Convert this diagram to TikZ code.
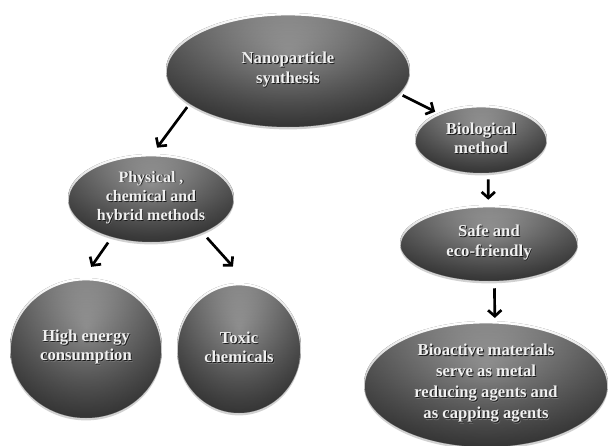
\documentclass[tikz,border=0pt]{standalone}
\usepackage{fontspec}
\setmainfont{Liberation Serif}
\usetikzlibrary{shapes.geometric,arrows.meta,calc,shadows,fadings}
\tikzfading[name=vign, inner color=transparent!100, outer color=transparent!52]
\newcommand\sht[1]{\leavevmode\rlap{\kern1.1pt\raisebox{-1.1pt}{\textcolor{black!55}{#1}}}\rlap{\kern0.7pt\raisebox{-0.7pt}{\textcolor{black!90}{#1}}}#1}
\begin{document}
\begin{tikzpicture}[x=0.75pt,y=-0.75pt,
  bub/.style={ellipse, inner sep=0pt, text=white!94!black, align=center,
    font=\fontsize{12.5}{15}\selectfont\bfseries,
    drop shadow={shadow xshift=0pt, shadow yshift=-1.8pt, opacity=0.18, fill=black},
    path picture={
      \shade[top color=black!33, middle color=black!52, bottom color=black!66]
        (path picture bounding box.south west) rectangle (path picture bounding box.north east);
      \fill[black, path fading=vign] let \p1=(path picture bounding box.north east),
        \p2=(path picture bounding box.center) in
        ($(\p2)+({-1.1*(\x1-\x2)},{-1.3*(\y1-\y2)})$) rectangle ($(\p2)+({1.1*(\x1-\x2)},{1.9*(\y1-\y2)})$);
      \shade[top color=white, bottom color=black!45, even odd rule] let \p1=(path picture bounding box.north east),
        \p2=(path picture bounding box.center) in
        (\p2) ellipse [x radius={\x1-\x2}, y radius={\y1-\y2}]
        ($(\p2)+(0pt,-1.8pt)$) ellipse [x radius={\x1-\x2-0.6pt}, y radius={\y1-\y2}];
    }},
  arr/.style={line width=2pt, -{Straight Barb[length=4.5pt,width=10pt]}}]
\fill[white] (0,0) rectangle (608,446);
\useasboundingbox (0,0) rectangle (608,446);

\node[bub, minimum width=183pt, minimum height=85.5pt] (nano) at (288,70)
  {\sht{Nanoparticle}\\\sht{synthesis}};
\node[bub, minimum width=99pt, minimum height=51pt, font=\fontsize{12.5}{14.3}\selectfont\bfseries] (bio) at (481,139)
  {\sht{Biological}\\\sht{method}};
\node[bub, minimum width=133.5pt, minimum height=57pt] (safe) at (489,243)
  {\sht{Safe and}\\\sht{eco-friendly}};
\node[bub, minimum width=183pt, minimum height=94.5pt, font=\fontsize{12.5}{15.8}\selectfont\bfseries] (bioact) at (486,384)
  {\sht{Bioactive materials}\\\sht{serve as metal}\\\sht{reducing agents and}\\\sht{as capping agents}};
\node[bub, minimum width=124.5pt, minimum height=66pt, font=\fontsize{12}{14.3}\selectfont\bfseries] (phys) at (151,198)
  {\sht{Physical ,}\\\sht{chemical and}\\\sht{hybrid methods}};
\node[bub, minimum width=114pt, minimum height=105pt, font=\fontsize{12.5}{14.3}\selectfont\bfseries] (high) at (86,348)
  {\sht{High energy}\\\sht{consumption}};
\node[bub, minimum width=93pt, minimum height=97.5pt, font=\fontsize{12.5}{14.8}\selectfont\bfseries] (toxic) at (239,348)
  {\sht{Toxic}\\\sht{chemicals}};

\draw[arr, shorten <=3pt, shorten >=5.7pt] (nano.199) -- (phys.88);
\draw[arr, shorten <=2.8pt, shorten >=2.2pt] (nano.-12) -- (bio.149.5);
\draw[arr, shorten <=4.7pt, shorten >=3.75pt] (bio.-78.3) -- (safe.91.5);
\draw[arr, shorten <=5.3pt, shorten >=2.2pt] (safe.-82.5) -- (bioact.82.8);
\draw[arr, shorten <=5pt, shorten >=10pt] (phys.225.7) -- (high.92.2);
\draw[arr, shorten <=5pt, shorten >=17pt] (phys.-34.4) -- (toxic.82.9);
\end{tikzpicture}
\end{document}
